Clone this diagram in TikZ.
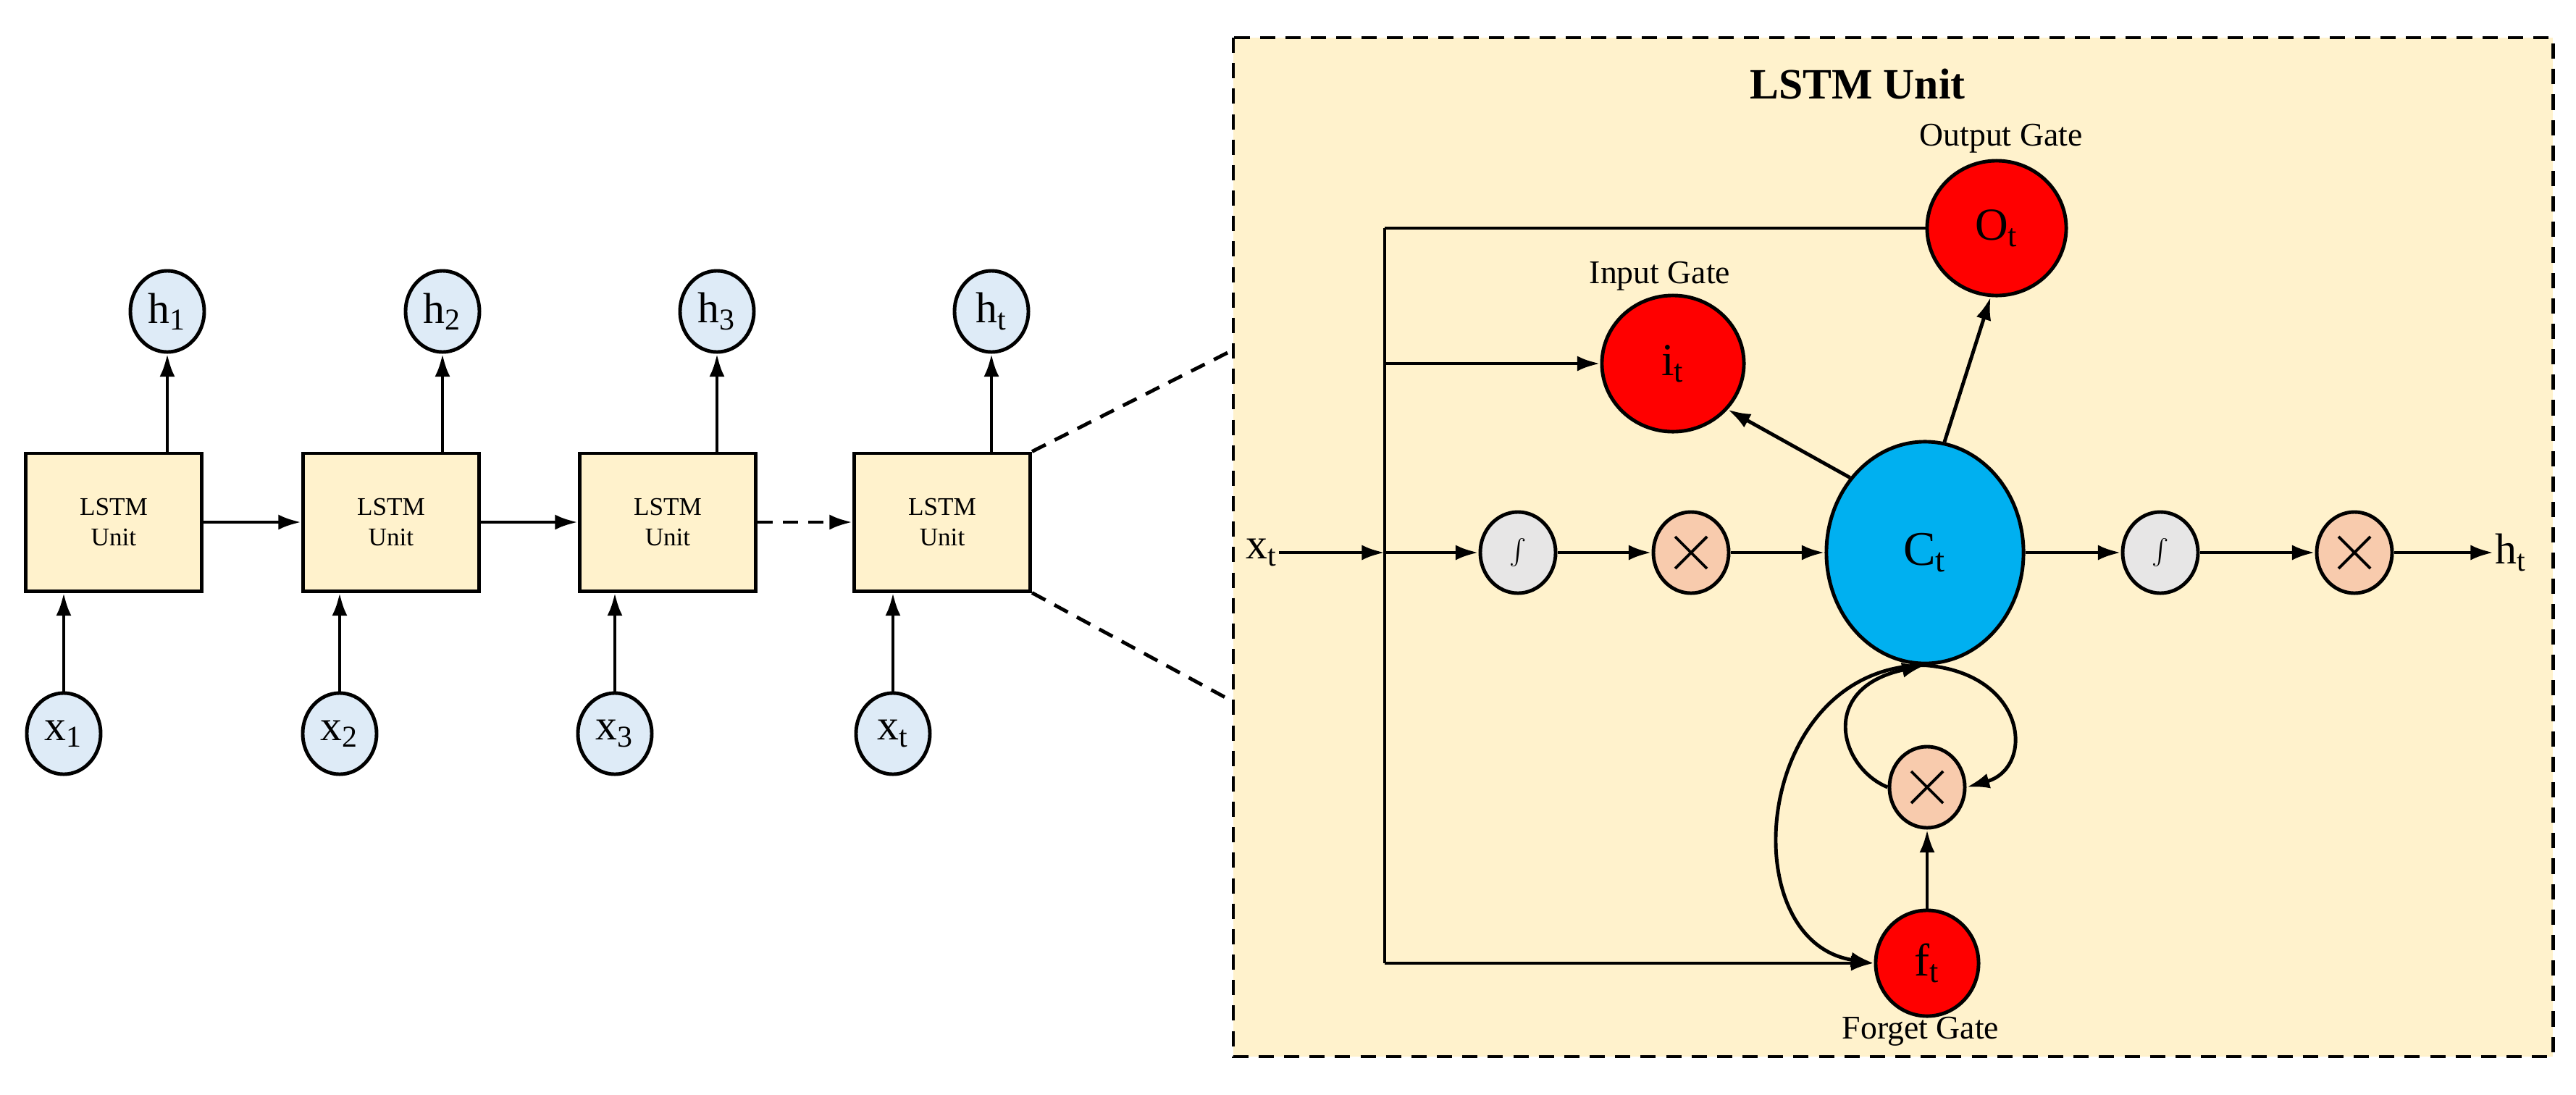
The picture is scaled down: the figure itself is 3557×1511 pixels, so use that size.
\documentclass[tikz,border=0pt]{standalone}
\usepackage{fontspec}
\setmainfont{Liberation Serif}
\usetikzlibrary{shapes.geometric,arrows.meta}
\definecolor{ybg}{HTML}{FFF2CC}
\definecolor{lblue}{HTML}{DEEBF7}
\definecolor{cblue}{HTML}{00B0F0}
\definecolor{salmon}{HTML}{F8CBAD}
\definecolor{lgray}{HTML}{E7E6E6}
\begin{document}
\begin{tikzpicture}[x=0.01cm,y=-0.01cm,line width=1.4pt,
  arr/.style={-{Latex[length=9pt,width=6pt]}},
  box/.style={draw,fill=ybg,minimum width=2.43cm,minimum height=1.9cm,align=center,inner sep=0pt,font=\fontsize{10}{12}\selectfont},
  hc/.style={ellipse,draw,fill=lblue,minimum width=1.02cm,minimum height=1.12cm,inner sep=0pt,font=\fontsize{17}{17}\selectfont},
  gate/.style={ellipse,draw,fill=red,inner sep=0pt,font=\fontsize{18}{18}\selectfont},
  sig/.style={ellipse,draw,fill=lgray,minimum width=1.04cm,minimum height=1.12cm,inner sep=0pt,font=\fontsize{18}{18}\selectfont},
  mul/.style={ellipse,draw,fill=salmon,minimum width=1.04cm,minimum height=1.12cm,inner sep=0pt,
    path picture={\draw[line width=1.1pt] ([shift={(-22,-22)}]path picture bounding box.center) -- ([shift={(22,22)}]path picture bounding box.center);
                  \draw[line width=1.1pt] ([shift={(-22,22)}]path picture bounding box.center) -- ([shift={(22,-22)}]path picture bounding box.center);}},
  lab/.style={font=\fontsize{13}{13}\selectfont,inner sep=0pt},
  big/.style={font=\fontsize{17}{17}\selectfont,inner sep=0pt}]
\useasboundingbox (0,0) rectangle (3557,1511);
% panel
\draw[fill=ybg,dash pattern=on 6pt off 4pt] (1703,52) rectangle (3525,1459);
% chain
\node[box] (u1) at (157,721) {LSTM\\Unit};
\node[box] (u2) at (540,721) {LSTM\\Unit};
\node[box] (u3) at (922,721) {LSTM\\Unit};
\node[box] (u4) at (1301,721) {LSTM\\Unit};
\node[hc] (h1) at (231,430) {h\textsubscript{1}};
\node[hc] (h2) at (611,430) {h\textsubscript{2}};
\node[hc] (h3) at (990,430) {h\textsubscript{3}};
\node[hc] (h4) at (1369,430) {h\textsubscript{t}};
\node[hc] (x1) at (88,1013) {x\textsubscript{1}};
\node[hc] (x2) at (469,1013) {x\textsubscript{2}};
\node[hc] (x3) at (849,1013) {x\textsubscript{3}};
\node[hc] (x4) at (1233,1013) {x\textsubscript{t}};
\foreach \i in {1,2,3,4}{
  \draw[arr] (h\i |- u\i.north) -- (h\i);
  \draw[arr] (x\i) -- (x\i |- u\i.south);
}
\draw[arr] (u1) -- (u2);
\draw[arr] (u2) -- (u3);
\draw[arr,dash pattern=on 6pt off 4pt] (u3) -- (u4);
\coordinate (p1) at (1703,483);
\coordinate (p2) at (1703,969);
\draw[dash pattern=on 6pt off 4pt] (u4.north east) -- (p1);
\draw[dash pattern=on 6pt off 4pt] (u4.south east) -- (p2);
% unit
\node[font=\fontsize{17}{17}\selectfont\bfseries] (title) at (2565,116) {LSTM Unit};
\node[gate,minimum width=1.92cm,minimum height=1.86cm] (O) at (2757,315) {O\textsubscript{t}};
\node[gate,minimum width=1.96cm,minimum height=1.88cm] (i) at (2310,502) {i\textsubscript{t}};
\node[ellipse,draw,fill=cblue,minimum width=2.72cm,minimum height=3.06cm,inner sep=0pt,font=\fontsize{19}{19}\selectfont] (C) at (2658,763) {C\textsubscript{t}};
\node[gate,minimum width=1.42cm,minimum height=1.46cm] (f) at (2661,1330) {f\textsubscript{t}};
\node[sig] (s1) at (2096,763) {$\int$};
\node[mul] (m1) at (2335,763) {};
\node[sig] (s2) at (2983,763) {$\int$};
\node[mul] (m2) at (3251,763) {};
\node[mul] (m3) at (2661,1087) {};
\node[lab] (lo) at (2763,191) {Output Gate};
\node[lab] (li) at (2292,381) {Input Gate};
\node[lab] (lf) at (2652,1424) {Forget Gate};
\node[big] (xt) at (1742,763) {x\textsubscript{t}};
\node[big,anchor=west] (ht) at (3443,763) {h\textsubscript{t}};
\coordinate (V) at (1912,763);
\coordinate (Vt) at (1912,315);
\coordinate (Vi) at (1912,502);
\coordinate (Vb) at (1912,1330);
\draw[arr] (xt) -- (V);
\draw (Vt) -- (Vb);
\draw (Vt) -- (O.west);
\draw[arr] (Vi) -- (i.west);
\draw[arr] (Vb) -- (f.west);
\draw[arr] (V) -- (s1);
\draw[arr] (s1) -- (m1);
\draw[arr] (m1) -- (C);
\draw[arr] (C) -- (s2);
\draw[arr] (s2) -- (m2);
\draw[arr] (m2) -- (ht);
\draw[arr] (C.135) -- (i.-40);
\draw[arr] (C.80) -- (O.-95);
\draw[arr] (f) -- (m3);
\draw[arr] (m3.west) .. controls (2540,1060) and (2510,950) .. (C.south);
\draw[arr] (C.south) .. controls (2800,930) and (2810,1060) .. (m3.east);
\draw[arr] (C.south) .. controls (2420,920) and (2390,1300) .. (f.west);
\end{tikzpicture}
\end{document}
